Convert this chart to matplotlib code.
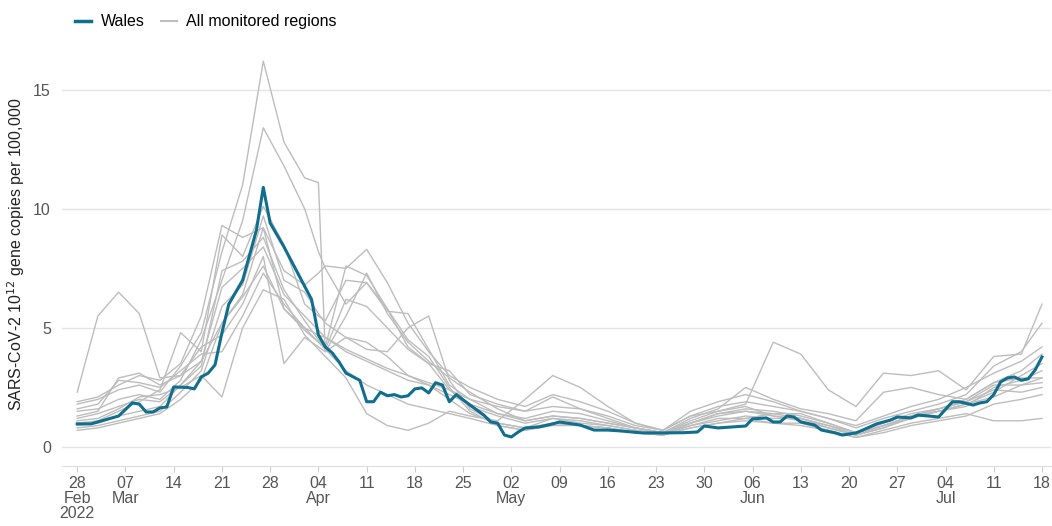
import numpy as np
import pandas as pd
import matplotlib
matplotlib.use("Agg")
import matplotlib.pyplot as plt
from matplotlib.lines import Line2D

plt.rcParams['font.family'] = ['Liberation Sans', 'DejaVu Sans']

# ---------- data ----------
START = "2022-02-28"

# Wales: (day offset from 28 Feb, value)
wales_days = [0, 2, 6, 8, 9, 10, 11, 12, 13, 14, 16, 17, 18, 19, 20, 21, 22, 24, 26, 27,
              28, 30, 32, 34, 35, 36, 37, 38, 39, 41, 42, 43, 44, 45, 46, 47, 48, 49, 50,
              51, 52, 53, 54, 55, 57, 59, 60, 61, 62, 63, 64, 65, 67, 69, 70, 73, 75, 77,
              79, 82, 85, 88, 90, 91, 93, 97, 98, 100, 101, 102, 103, 104, 105, 107, 108,
              110, 111, 113, 114, 116, 118, 119, 121, 122, 125, 127, 128, 130, 131, 132,
              133, 134, 135, 136, 137, 138, 139, 140]
wales_vals = [0.97, 0.97, 1.3, 1.85, 1.8, 1.47, 1.47, 1.64, 1.68, 2.52, 2.5, 2.44, 2.94, 3.1,
              3.45, 4.8, 6.0, 7.0, 9.1, 10.9, 9.4, 8.4, 7.3, 6.2, 4.7, 4.2, 3.95, 3.57, 3.1,
              2.8, 1.9, 1.9, 2.3, 2.15, 2.2, 2.1, 2.15, 2.44, 2.48, 2.27, 2.7, 2.6, 1.9, 2.2,
              1.76, 1.34, 1.05, 1.0, 0.5, 0.42, 0.63, 0.8, 0.84, 0.97, 1.05, 0.92, 0.71, 0.71,
              0.67, 0.59, 0.59, 0.6, 0.63, 0.88, 0.8, 0.88, 1.18, 1.22, 1.05, 1.05, 1.3, 1.26,
              1.05, 0.92, 0.71, 0.59, 0.5, 0.59, 0.71, 0.97, 1.13, 1.26, 1.22, 1.34, 1.26,
              1.9, 1.9, 1.76, 1.85, 1.9, 2.2, 2.73, 2.9, 2.94, 2.8, 2.86, 3.23, 3.78]

# all monitored regions, sampled on a common set of days
region_days = [0, 3, 6, 9, 12, 15, 18, 21, 24, 27, 30, 33, 35, 36, 39, 42, 45, 48, 51, 54, 57,
               61, 65, 69, 73, 77, 81, 85, 89, 93, 97, 101, 105, 109, 113, 117, 121, 125,
               129, 133, 137, 140]
region_1 = [2.3, 5.5, 6.5, 5.6, 2.9, 3.0, 3.6, 5.2, 6.3, 7.6, 5.8, 5.0, 4.7, 4.6, 4.1, 3.7, 3.3,
            3.0, 2.7, 2.4, 2.0, 1.4, 1.2, 1.5, 1.4, 1.1, 0.8, 0.6, 1.0, 1.3, 1.5, 1.3, 1.2, 0.9,
            0.6, 0.9, 1.2, 1.5, 1.8, 2.1, 2.6, 2.9]
region_2 = [1.8, 2.0, 2.4, 2.6, 2.3, 3.4, 4.8, 8.2, 11.0, 16.2, 12.8, 11.3, 11.1, 4.0, 5.5, 7.3,
            5.6, 4.4, 3.6, 2.9, 2.3, 1.6, 1.1, 1.3, 1.2, 1.0, 0.8, 0.6, 0.9, 1.2, 1.2, 1.4, 1.4,
            1.0, 0.6, 0.9, 1.3, 1.5, 1.8, 2.3, 3.0, 3.5]
region_3 = [1.5, 1.6, 2.0, 2.2, 2.0, 2.8, 4.5, 7.0, 9.5, 13.4, 11.8, 10.0, 8.2, 7.5, 6.0, 6.9,
            5.8, 4.2, 3.5, 3.2, 2.2, 1.8, 1.5, 2.1, 1.6, 1.3, 0.9, 0.7, 1.3, 1.7, 1.9, 1.7, 1.5,
            1.2, 0.8, 1.2, 1.5, 1.8, 2.2, 3.4, 4.0, 5.2]
region_4 = [1.9, 2.1, 2.6, 3.0, 2.8, 3.5, 5.5, 9.3, 8.8, 9.2, 7.4, 6.8, 7.3, 7.6, 7.5, 8.3, 6.9,
            5.2, 4.0, 3.0, 2.5, 2.0, 1.7, 2.2, 1.9, 1.5, 1.0, 0.7, 1.5, 1.9, 2.2, 1.9, 1.5, 1.2,
            0.9, 1.3, 1.7, 2.0, 2.5, 3.1, 3.6, 4.2]
region_5 = [1.2, 1.4, 1.7, 2.0, 1.9, 2.6, 3.6, 6.7, 7.5, 8.4, 6.4, 5.5, 4.9, 4.6, 4.0, 3.6, 3.2,
            2.8, 2.6, 2.2, 1.8, 1.4, 1.1, 1.3, 1.2, 1.0, 0.8, 0.6, 1.1, 1.5, 1.8, 4.4, 3.9, 2.4,
            1.7, 3.1, 3.0, 3.2, 2.4, 3.8, 3.9, 6.0]
region_6 = [1.0, 1.1, 1.5, 1.9, 2.4, 4.8, 4.0, 8.9, 8.0, 10.1, 8.5, 6.0, 5.5, 5.3, 7.0, 6.9, 5.7,
            5.6, 4.1, 2.6, 2.0, 1.7, 1.5, 1.7, 1.6, 1.2, 0.8, 0.6, 1.2, 1.6, 2.5, 2.0, 1.6, 1.4,
            1.1, 2.3, 2.5, 2.2, 2.0, 2.7, 3.2, 3.9]
region_7 = [0.8, 0.9, 1.1, 1.3, 1.5, 2.3, 3.2, 5.9, 6.8, 9.7, 7.0, 6.5, 5.6, 5.2, 4.6, 4.1, 4.0,
            5.0, 5.5, 2.8, 1.6, 1.0, 0.8, 1.0, 0.9, 0.8, 0.6, 0.5, 0.8, 1.0, 1.2, 1.0, 1.0, 0.7,
            0.4, 0.7, 1.0, 1.2, 1.4, 1.1, 1.1, 1.2]
region_8 = [0.7, 0.8, 1.0, 1.2, 1.4, 2.0, 2.8, 5.2, 6.4, 9.2, 5.8, 4.9, 4.4, 4.2, 7.6, 7.2, 5.8,
            4.5, 3.8, 2.5, 1.5, 0.9, 0.7, 1.0, 0.9, 0.8, 0.6, 0.5, 0.9, 1.1, 1.3, 1.2, 1.2, 0.8,
            0.5, 0.8, 1.2, 1.5, 1.7, 2.5, 2.8, 3.2]
region_9 = [0.9, 1.0, 1.3, 1.5, 1.7, 2.6, 3.4, 7.4, 7.8, 8.8, 6.6, 5.3, 4.5, 4.1, 6.2, 5.9, 5.0,
            4.1, 3.5, 2.4, 1.7, 1.3, 1.0, 1.2, 1.1, 0.9, 0.7, 0.5, 1.0, 1.4, 1.6, 1.5, 1.3, 1.0,
            0.6, 1.0, 1.4, 1.6, 1.9, 2.6, 2.6, 2.7]
region_10 = [1.3, 1.5, 2.9, 3.1, 2.6, 3.0, 4.2, 4.7, 6.0, 8.0, 3.5, 4.6, 4.2, 4.0, 4.6, 4.4, 3.8,
             3.0, 2.6, 2.0, 1.4, 1.0, 0.8, 1.2, 1.0, 0.9, 0.7, 0.6, 1.0, 1.4, 1.5, 1.4, 1.2, 0.9,
             0.5, 0.9, 1.3, 1.6, 1.9, 2.4, 2.3, 2.5]
region_11 = [1.6, 1.8, 2.8, 2.7, 2.5, 3.2, 3.9, 4.0, 5.5, 7.3, 6.0, 5.0, 4.4, 4.1, 3.2, 2.6, 2.2,
             1.8, 1.6, 1.4, 1.2, 0.9, 0.7, 0.9, 0.9, 0.8, 0.6, 0.5, 0.8, 1.0, 1.1, 1.0, 0.9, 0.7,
             0.4, 0.6, 0.9, 1.1, 1.3, 1.8, 2.0, 2.2]
region_12 = [1.1, 1.2, 1.6, 2.1, 2.2, 2.5, 3.0, 2.1, 5.0, 6.6, 6.2, 4.7, 4.1, 3.8, 2.9, 1.4, 0.9,
             0.7, 1.0, 1.5, 1.3, 1.1, 2.0, 3.0, 2.5, 1.7, 1.0, 0.7, 1.3, 1.5, 1.7, 1.3, 1.1, 0.8,
             0.5, 0.8, 1.3, 1.6, 2.0, 2.7, 2.9, 2.9]
regions = [region_1, region_2, region_3, region_4, region_5, region_6,
           region_7, region_8, region_9, region_10, region_11, region_12]

tick_labels = ["28\nFeb\n2022", "07\nMar", "14", "21", "28", "04\nApr", "11", "18", "25",
               "02\nMay", "09", "16", "23", "30", "06\nJun", "13", "20", "27", "04\nJul",
               "11", "18"]

# ---------- plot ----------
WALES = "#106e8e"
GREY = "#bdbdbd"
TXT = "#555555"

start = pd.Timestamp(START)
def to_dates(days):
    return start + pd.to_timedelta(days, unit="D")

fig = plt.figure(figsize=(10.52, 5.26), dpi=100)
ax = fig.add_axes([0.059, 0.114, 0.940, 0.806])

rd = to_dates(region_days)
for vals in regions:
    ax.plot(rd, vals, color=GREY, lw=1.0, zorder=2)
ax.plot(to_dates(wales_days), wales_vals, color=WALES, lw=2.2, zorder=3)

ax.set_xlim(start - pd.Timedelta(days=2.2), start + pd.Timedelta(days=141.3))
ax.set_ylim(-0.8, 17.0)

ticks = to_dates(np.arange(0, 141, 7))
ax.set_xticks(ticks)
ax.set_xticklabels(tick_labels, fontsize=11.5, color=TXT, linespacing=1.0)
ax.set_yticks([0, 5, 10, 15])
ax.set_yticklabels(["0", "5", "10", "15"], fontsize=11.5, color=TXT)
ax.tick_params(axis="x", length=4, color="#cccccc", pad=3)
ax.tick_params(axis="y", length=0, pad=8)

ax.grid(axis="y", color="#e3e3e3", lw=1.0, zorder=0)
for s in ["top", "right", "left"]:
    ax.spines[s].set_visible(False)
ax.spines["bottom"].set_color("#dddddd")

ax.set_ylabel(r"SARS-CoV-2 10$^{12}$ gene copies per 100,000", fontsize=11.5, color="#222222")
ax.yaxis.set_label_coords(-0.035, 0.5)

handles = [Line2D([], [], color=WALES, lw=2.5), Line2D([], [], color=GREY, lw=1.5)]
fig.legend(handles, ["Wales", "All monitored regions"], loc="upper left",
           bbox_to_anchor=(0.058, 1.0), ncol=2, frameon=False, fontsize=11.5,
           handlelength=1.0, handletextpad=0.6, columnspacing=1.0)

fig.savefig("out.png", dpi=100)
